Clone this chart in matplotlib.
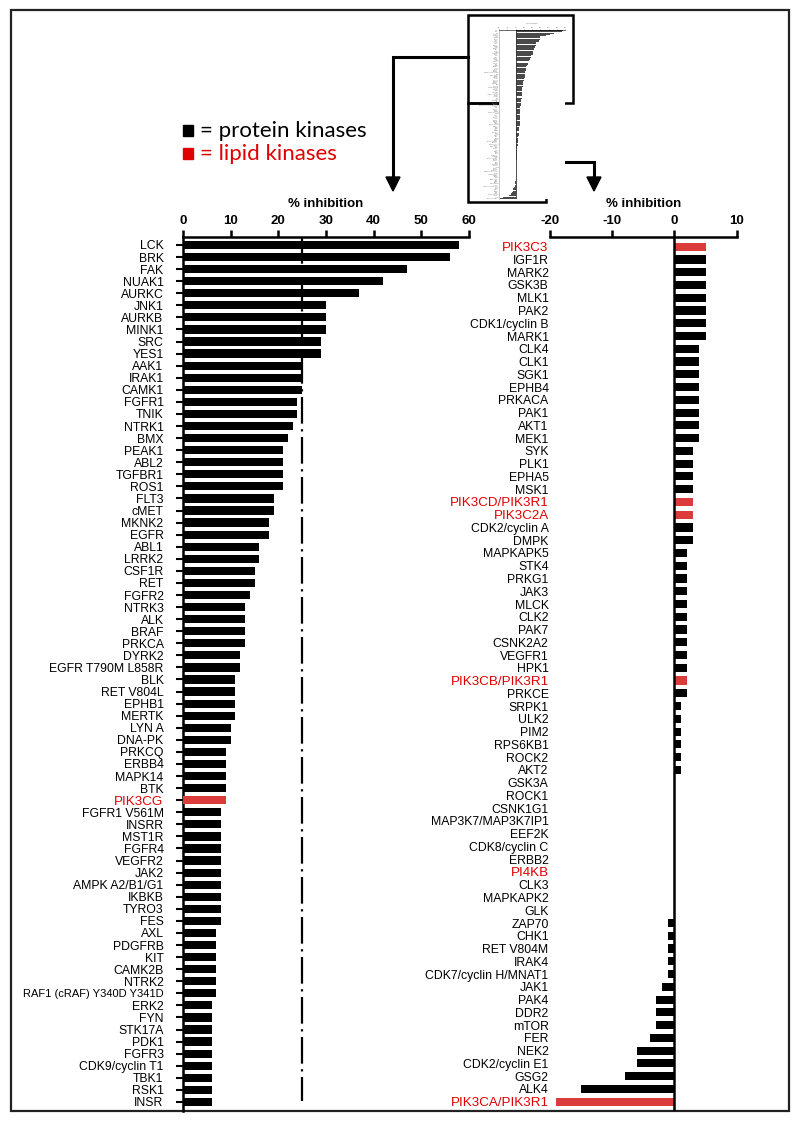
import matplotlib.pyplot as plt
import numpy as np
from matplotlib.patches import Rectangle, Polygon

# ---- data ----
left_names = ['LCK', 'BRK', 'FAK', 'NUAK1', 'AURKC', 'JNK1', 'AURKB', 'MINK1', 'SRC', 'YES1',
              'AAK1', 'IRAK1', 'CAMK1', 'FGFR1', 'TNIK', 'NTRK1', 'BMX', 'PEAK1', 'ABL2', 'TGFBR1',
              'ROS1', 'FLT3', 'cMET', 'MKNK2', 'EGFR', 'ABL1', 'LRRK2', 'CSF1R', 'RET', 'FGFR2',
              'NTRK3', 'ALK', 'BRAF', 'PRKCA', 'DYRK2', 'EGFR T790M L858R', 'BLK', 'RET V804L', 'EPHB1', 'MERTK',
              'LYN A', 'DNA-PK', 'PRKCQ', 'ERBB4', 'MAPK14', 'BTK', 'PIK3CG', 'FGFR1 V561M', 'INSRR', 'MST1R',
              'FGFR4', 'VEGFR2', 'JAK2', 'AMPK A2/B1/G1', 'IKBKB', 'TYRO3', 'FES', 'AXL', 'PDGFRB', 'KIT',
              'CAMK2B', 'NTRK2', 'RAF1 (cRAF) Y340D Y341D', 'ERK2', 'FYN', 'STK17A', 'PDK1', 'FGFR3', 'CDK9/cyclin T1', 'TBK1',
              'RSK1', 'INSR']
left_values = [58, 56, 47, 42, 37, 30, 30, 30, 29, 29,
               25, 25, 25, 24, 24, 23, 22, 21, 21, 21,
               21, 19, 19, 18, 18, 16, 16, 15, 15, 14,
               13, 13, 13, 13, 12, 12, 11, 11, 11, 11,
               10, 10, 9, 9, 9, 9, 9, 8, 8, 8,
               8, 8, 8, 8, 8, 8, 8, 7, 7, 7,
               7, 7, 7, 6, 6, 6, 6, 6, 6, 6,
               6, 6]

right_names = ['PIK3C3', 'IGF1R', 'MARK2', 'GSK3B', 'MLK1', 'PAK2', 'CDK1/cyclin B', 'MARK1', 'CLK4', 'CLK1',
               'SGK1', 'EPHB4', 'PRKACA', 'PAK1', 'AKT1', 'MEK1', 'SYK', 'PLK1', 'EPHA5', 'MSK1',
               'PIK3CD/PIK3R1', 'PIK3C2A', 'CDK2/cyclin A', 'DMPK', 'MAPKAPK5', 'STK4', 'PRKG1', 'JAK3', 'MLCK', 'CLK2',
               'PAK7', 'CSNK2A2', 'VEGFR1', 'HPK1', 'PIK3CB/PIK3R1', 'PRKCE', 'SRPK1', 'ULK2', 'PIM2', 'RPS6KB1',
               'ROCK2', 'AKT2', 'GSK3A', 'ROCK1', 'CSNK1G1', 'MAP3K7/MAP3K7IP1', 'EEF2K', 'CDK8/cyclin C', 'ERBB2', 'PI4KB',
               'CLK3', 'MAPKAPK2', 'GLK', 'ZAP70', 'CHK1', 'RET V804M', 'IRAK4', 'CDK7/cyclin H/MNAT1', 'JAK1', 'PAK4',
               'DDR2', 'mTOR', 'FER', 'NEK2', 'CDK2/cyclin E1', 'GSG2', 'ALK4', 'PIK3CA/PIK3R1']
right_values = [5, 5, 5, 5, 5, 5, 5, 5, 4, 4,
                4, 4, 4, 4, 4, 4, 3, 3, 3, 3,
                3, 3, 3, 3, 2, 2, 2, 2, 2, 2,
                2, 2, 2, 2, 2, 2, 1, 1, 1, 1,
                1, 1, 0, 0, 0, 0, 0, 0, 0, 0,
                0, 0, 0, -1, -1, -1, -1, -1, -2, -3,
                -3, -3, -4, -6, -6, -8, -15, -19]

lipid_kinases = ['PIK3CG', 'PIK3C3', 'PIK3CD/PIK3R1', 'PIK3C2A', 'PIK3CB/PIK3R1', 'PI4KB', 'PIK3CA/PIK3R1']
narrow_labels = ['RAF1 (cRAF) Y340D Y341D']

BAR_RED = '#db3b3b'
TXT_RED = '#e00000'
W, H = 800, 1130

plt.rcParams['font.family'] = ['Liberation Sans', 'DejaVu Sans']
plt.rcParams['axes.unicode_minus'] = False

fig = plt.figure(figsize=(8, 11.3), dpi=100)


def px_rect(x0, y0, x1, y1):
    return [x0 / W, 1 - y1 / H, (x1 - x0) / W, (y1 - y0) / H]


# overlay in pixel coordinates for frame, arrows, legend
over = fig.add_axes([0, 0, 1, 1])
over.set_xlim(0, W)
over.set_ylim(H, 0)
over.axis('off')
over.add_patch(Rectangle((11, 10), 778, 1101, fill=False, lw=1.6, ec='#222222'))

# legend
over.add_patch(Rectangle((183, 125), 10, 11, color='black'))
over.add_patch(Rectangle((183, 148), 10, 11, color=TXT_RED))
over.text(200, 131, '= protein kinases', fontsize=16, family='Lato', va='center', ha='left', color='black')
over.text(200, 154, '= lipid kinases', fontsize=16, family='Lato', va='center', ha='left', color=TXT_RED)

# arrows from the thumbnail
over.plot([468, 393, 393], [57, 57, 178], color='black', lw=2.2, solid_joinstyle='miter')
over.add_patch(Polygon([(386, 177), (400, 177), (393, 191)], closed=True, color='black'))
over.plot([546, 594, 594], [162, 162, 178], color='black', lw=2.2, solid_joinstyle='miter')
over.add_patch(Polygon([(587, 177), (601, 177), (594, 191)], closed=True, color='black'))

# thumbnail of whole data set
all_names = left_names + right_names
all_values = left_values + right_values
thumb = fig.add_axes(px_rect(499, 30, 565, 199))
ty = np.arange(len(all_values))
thumb.barh(ty, all_values, height=0.8, color='#4a4a4a')
thumb.set_xlim(-20, 60)
thumb.set_ylim(len(all_values) - 0.5, -0.5)
thumb.axvline(0, color='#333333', lw=0.6)
thumb.xaxis.tick_top()
thumb.set_xticks(np.arange(-20, 61, 10))
thumb.tick_params(axis='x', labelsize=1.6, length=1, width=0.4, pad=0.5, colors='#555555')
thumb.set_yticks(ty, all_names, fontsize=1.1, color='#777777')
thumb.tick_params(axis='y', length=0, pad=0.5)
thumb.set_title('% inhibition', fontsize=1.6, pad=2, color='#555555')
for s in ['right', 'bottom']:
    thumb.spines[s].set_visible(False)
thumb.spines['top'].set_linewidth(0.4)
thumb.spines['left'].set_linewidth(0.4)
thumb.spines['left'].set_color('#999999')
over.add_patch(Rectangle((468, 15), 105, 88, fill=False, lw=1.8, ec='black', zorder=5))
over.add_patch(Rectangle((468, 103), 78, 99, fill=False, lw=1.8, ec='black', zorder=5))


def style_panel(ax, names, values, xlim, xticks, bar_h, ytick_len, pad):
    y = np.arange(len(values))
    colors = [BAR_RED if n in lipid_kinases else 'black' for n in names]
    ax.barh(y, values, height=bar_h, color=colors, zorder=3)
    ax.set_xlim(*xlim)
    ax.xaxis.tick_top()
    ax.xaxis.set_label_position('top')
    ax.set_xticks(xticks)
    ax.set_xlabel('% inhibition', fontsize=9.5, fontweight='bold', labelpad=6)
    ax.tick_params(axis='x', length=5, width=1.8, pad=2, labelsize=9.5)
    for lab in ax.get_xticklabels():
        lab.set_fontweight('bold')
    ax.set_yticks(y, names)
    ax.tick_params(axis='y', length=ytick_len, width=1.5, pad=pad, labelsize=8.8)
    for lab, n in zip(ax.get_yticklabels(), names):
        if n in lipid_kinases:
            lab.set_color(TXT_RED)
            lab.set_fontsize(9.6)
        if n in narrow_labels:
            lab.set_fontsize(8.0)
    for s in ['right', 'bottom']:
        ax.spines[s].set_visible(False)
    ax.spines['top'].set_linewidth(1.8)
    ax.spines['left'].set_linewidth(1.8)
    ax.patch.set_alpha(0)
    return y


# left panel
axl = fig.add_axes(px_rect(183, 237, 469, 1111))
yl = style_panel(axl, left_names, left_values, (0, 60), np.arange(0, 61, 10), 0.68, 5, 9)
axl.set_ylim(len(left_values) - 1 + 0.75, -0.66)
axl.plot([25, 25], [-0.66, 70.9], color='black', lw=1.6, ls=(0, (12, 2.5, 1, 2.5)), zorder=4)

# right panel
axr = fig.add_axes(px_rect(550, 237, 736.7, 1111))
yr = style_panel(axr, right_names, right_values, (-20, 10), np.arange(-20, 11, 10), 0.64, 0, 1)
axr.set_ylim(len(right_values) - 1 + 0.73, -0.76)
axr.spines['left'].set_visible(False)
axr.axvline(0, color='black', lw=1.8, zorder=4)

fig.savefig('out.png', dpi=100)
